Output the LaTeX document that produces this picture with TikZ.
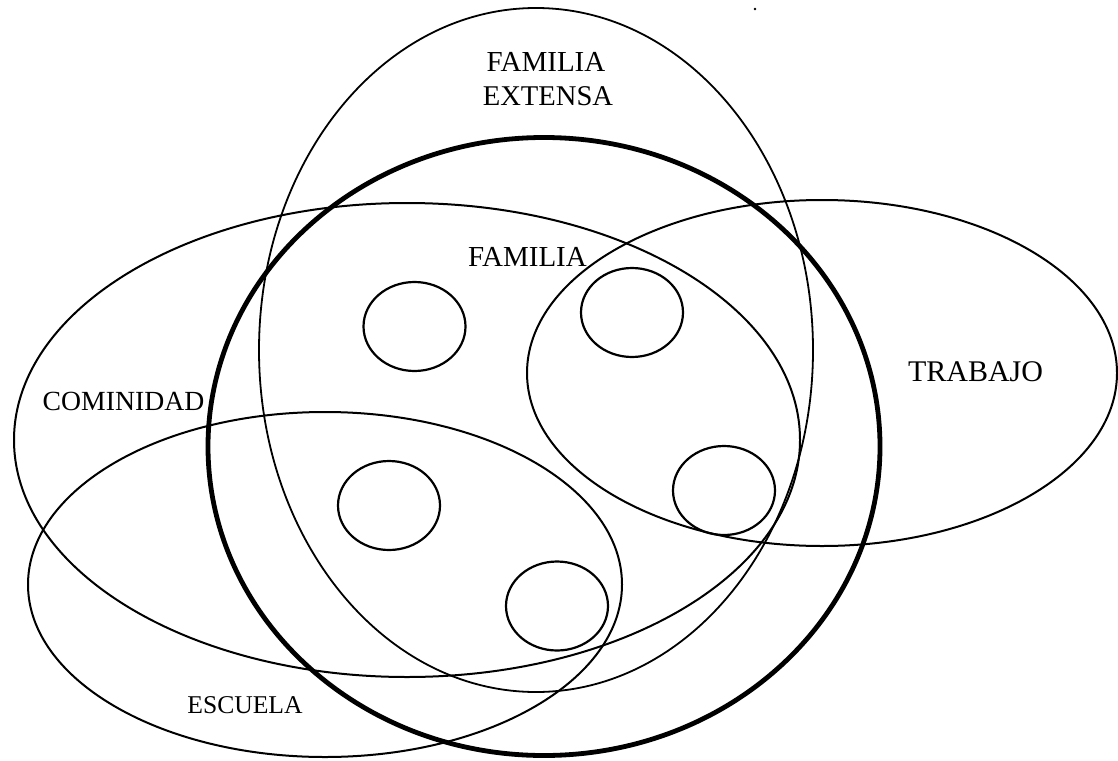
\documentclass[tikz,border=0pt]{standalone}
\usepackage{fontspec}
\setmainfont{Liberation Serif}
\begin{document}
\begin{tikzpicture}[x=1pt,y=-1pt,
  thinline/.style={draw=black,line width=2pt},
  thickline/.style={draw=black,line width=4.8pt},
  smallc/.style={draw=black,line width=2.2pt},
  lbl/.style={inner sep=0pt,outer sep=0pt,anchor=base,text=black}]
\useasboundingbox[fill=white] (0,0) rectangle (1118,760);
% centres
\coordinate (cExt) at (536,350);
\coordinate (cFam) at (544,446.5);
\coordinate (cCom) at (407,440);
\coordinate (cEsc) at (325,584.5);
\coordinate (cTra) at (822,373);
% large sets
\draw[thinline,line width=1.8pt] (cExt) ellipse [x radius=277pt,y radius=342pt];
\draw[thinline] (cCom) ellipse [x radius=393pt,y radius=237pt];
\draw[thinline] (cEsc) ellipse [x radius=297pt,y radius=172.5pt];
\draw[thinline] (cTra) ellipse [x radius=295pt,y radius=173pt];
\draw[thickline] (cFam) ellipse [x radius=336pt,y radius=309pt];
% small circles
\coordinate (m1) at (414.5,326.5);
\coordinate (m2) at (632,312.5);
\coordinate (m3) at (724,490.5);
\coordinate (m4) at (389,505.5);
\coordinate (m5) at (557,606);
\foreach \m in {m1,m2,m3,m4,m5}
  \draw[smallc] (\m) ellipse [x radius=51pt,y radius=44.5pt];
% labels
\node[lbl,font=\fontsize{29}{33}\selectfont] (extA) at (546,71.5) {FAMILIA};
\node[lbl,font=\fontsize{28.6}{33}\selectfont] (extB) at (548,105) {EXTENSA};
\node[lbl,font=\fontsize{29}{33}\selectfont] (fam) at (527.5,266.5) {FAMILIA};
\node[lbl,font=\fontsize{27.7}{33}\selectfont] (com) at (123.5,410) {COMINIDAD};
\node[lbl,font=\fontsize{30}{33}\selectfont] (tra) at (975.5,381.5) {TRABAJO};
\node[lbl,font=\fontsize{25.6}{30}\selectfont] (esc) at (245,713) {ESCUELA};
% stray mark
\fill[black] (755,9) circle [radius=1.4pt];
\end{tikzpicture}
\end{document}
